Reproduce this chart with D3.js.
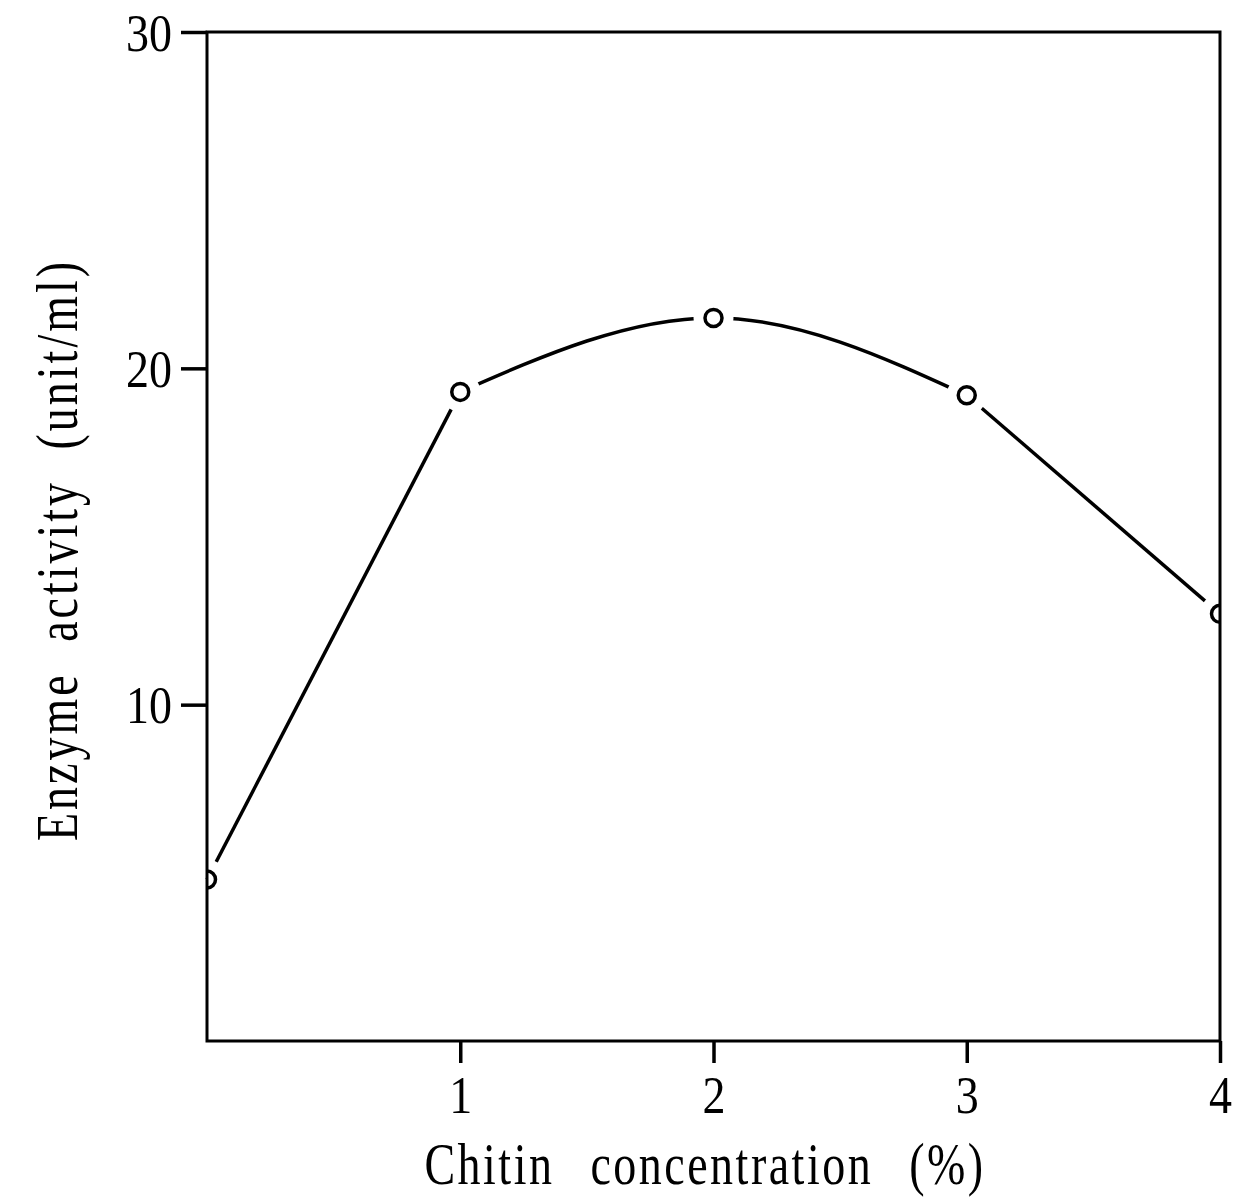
<!DOCTYPE html>
<html lang="en">
<head>
    <meta charset="UTF-8">
    <title>Enzyme activity vs chitin concentration</title>
    <script src="https://d3js.org/d3.v7.min.js"></script>
    <style>
        body { margin: 0; background: #fff; }
        .axis path { display: none; }
        .axis line { stroke: #000; stroke-width: 3.5; }
        .axis text, .title {
            font-family: "Liberation Serif", "DejaVu Serif", serif;
            font-size: 46px;
            fill: #000;
        }
    </style>
</head>
<body>
    <svg width="1249" height="1199"></svg>
    <script>
        // chitin concentration (%) and enzyme activity (unit/ml)
        const concentration = [0, 1, 2, 3, 4];
        const activity = [4.8, 19.3, 21.5, 19.2, 12.7];
        const xTicks = [1, 2, 3, 4];
        const yTicks = [10, 20, 30];

        const svg = d3.select("svg");
        const margin = {top: 32, right: 29, bottom: 158, left: 207};
        const width = +svg.attr("width") - margin.left - margin.right;
        const height = +svg.attr("height") - margin.top - margin.bottom;

        const g = svg.append("g").attr("transform", `translate(${margin.left},${margin.top})`);

        const x = d3.scaleLinear().domain([0, 4]).range([0, width]);
        const y = d3.scaleLinear().domain([0, 30]).range([height, 0]);

        const data = concentration.map((c, i) => ({x: c, y: activity[i]}));

        g.append("clipPath").attr("id", "plot")
         .append("rect").attr("width", width).attr("height", height);

        // straight ends, smooth arc over the middle three points
        const straight = d3.line().x(d => x(d.x)).y(d => y(d.y));
        const smooth = d3.line().x(d => x(d.x)).y(d => y(d.y)).curve(d3.curveMonotoneX);

        const pieces = [
            {path: straight, pts: data.slice(0, 2)},
            {path: smooth, pts: data.slice(1, 4)},
            {path: straight, pts: data.slice(3, 5)}
        ];
        g.selectAll("path.curve")
         .data(pieces)
         .enter()
         .append("path")
         .attr("class", "curve")
         .attr("fill", "none")
         .attr("stroke", "#000")
         .attr("stroke-width", 3.5)
         .attr("d", d => d.path(d.pts));

        // markers, with a white gap round each one
        const marks = g.append("g").attr("clip-path", "url(#plot)");
        marks.selectAll("circle.gap")
            .data(data)
            .enter()
            .append("circle")
            .attr("class", "gap")
            .attr("cx", d => x(d.x))
            .attr("cy", d => y(d.y))
            .attr("r", 20)
            .attr("fill", "#fff");
        marks.selectAll("circle.dot")
            .data(data)
            .enter()
            .append("circle")
            .attr("class", "dot")
            .attr("cx", d => x(d.x))
            .attr("cy", d => y(d.y))
            .attr("r", 8.5)
            .attr("fill", "#fff")
            .attr("stroke", "#000")
            .attr("stroke-width", 3.5);

        // frame
        g.append("rect")
         .attr("width", width)
         .attr("height", height)
         .attr("fill", "none")
         .attr("stroke", "#000")
         .attr("stroke-width", 3);

        const xAxis = d3.axisBottom(x).tickValues(xTicks).tickSize(22).tickFormat(d3.format("d"));
        const yAxis = d3.axisLeft(y).tickValues(yTicks).tickSize(26).tickFormat(d3.format("d"));

        const gx = g.append("g")
         .attr("class", "axis")
         .attr("transform", `translate(0,${height})`)
         .call(xAxis);
        gx.selectAll("text")
          .attr("y", 0).attr("dy", 0)
          .attr("transform", "translate(0,72) scale(1,1.15)");

        const gy = g.append("g")
         .attr("class", "axis")
         .call(yAxis);
        gy.selectAll("text")
          .attr("x", 0).attr("dy", 0)
          .attr("transform", "translate(-35,18) scale(1,1.15)");

        svg.append("text")
           .attr("class", "title")
           .attr("transform", "translate(705,1184) scale(1,1.3)")
           .attr("text-anchor", "middle")
           .style("letter-spacing", "2.5px")
           .style("word-spacing", "22px")
           .text("Chitin concentration (%)");

        svg.append("text")
           .attr("class", "title")
           .attr("transform", "translate(77,550) rotate(-90) scale(1,1.3)")
           .attr("text-anchor", "middle")
           .style("letter-spacing", "3px")
           .style("word-spacing", "16px")
           .text("Enzyme activity (unit/ml)");
    </script>
</body>
</html>
